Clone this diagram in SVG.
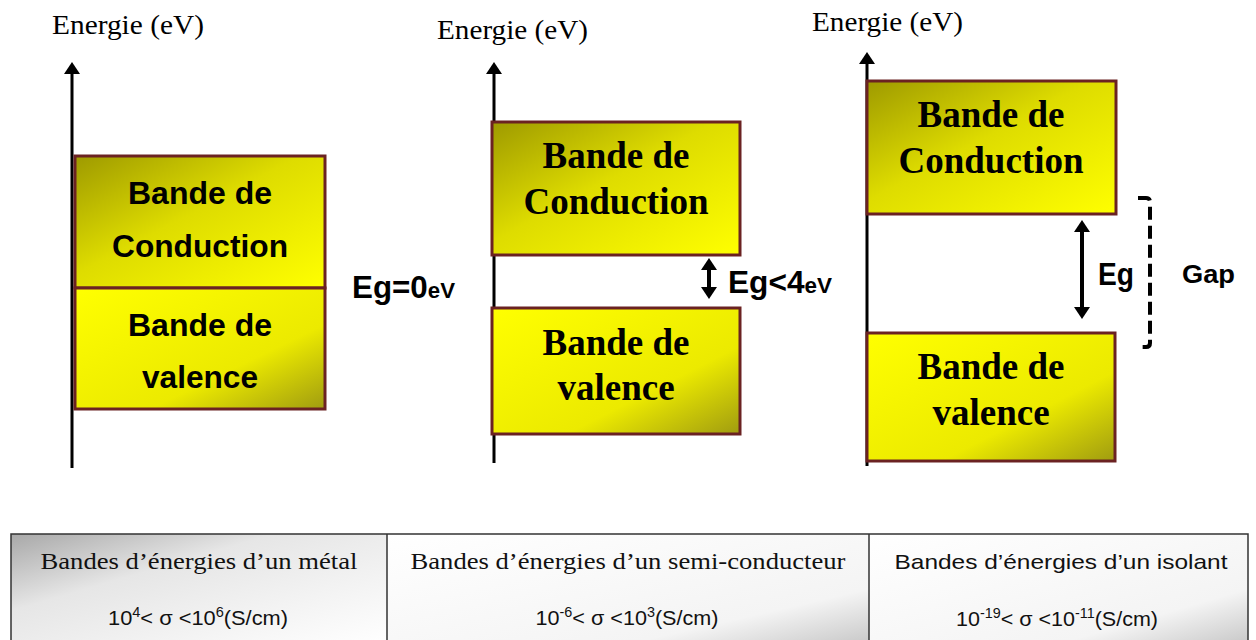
<svg xmlns="http://www.w3.org/2000/svg" width="1256" height="640" viewBox="0 0 1256 640">
<style>
.band{stroke:#6B2222;stroke-width:3}
.sb{font-family:"Liberation Sans",Arial,sans-serif;font-weight:bold;fill:#000}
.tb{font-family:"Liberation Serif","Times New Roman",serif;font-weight:bold;fill:#000;font-size:37px}
.en{font-family:"Liberation Serif","Times New Roman",serif;font-size:28px;fill:#000}
.ts{font-family:"Liberation Serif","Times New Roman",serif;font-size:24px;fill:#111}
.cs{font-family:"Liberation Sans",Arial,sans-serif;font-size:21px;fill:#111}
.axis{stroke:#000;stroke-width:3;fill:none}
.dbl{stroke:#000;stroke-width:4;fill:none}
</style>
<defs>
<linearGradient id="gc" x1="0" y1="0" x2="1" y2="1">
<stop offset="0" stop-color="#9E9A00"/>
<stop offset="0.45" stop-color="#DEDC00"/>
<stop offset="1" stop-color="#FFFF00"/>
</linearGradient>
<linearGradient id="gv" x1="0" y1="0" x2="1" y2="1">
<stop offset="0" stop-color="#FFFF00"/>
<stop offset="0.65" stop-color="#ECEA00"/>
<stop offset="1" stop-color="#A09C10"/>
</linearGradient>
<linearGradient id="t1" x1="0" y1="0" x2="1" y2="1">
<stop offset="0" stop-color="#A8A8A8"/>
<stop offset="0.35" stop-color="#E6E6E6"/>
<stop offset="1" stop-color="#FFFFFF"/>
</linearGradient>
<linearGradient id="t2" x1="0" y1="0" x2="1" y2="1">
<stop offset="0" stop-color="#FFFFFF"/>
<stop offset="0.75" stop-color="#F4F4F4"/>
<stop offset="1" stop-color="#C8C8C8"/>
</linearGradient>
<marker id="ah" viewBox="0 0 12 16" refX="2" refY="8" markerWidth="12" markerHeight="16" markerUnits="userSpaceOnUse" orient="auto">
<path d="M0,0 L12,8 L0,16 Z" fill="#000"/>
</marker>
<marker id="dh" viewBox="0 0 12 16" refX="2" refY="8" markerWidth="12" markerHeight="17" markerUnits="userSpaceOnUse" orient="auto-start-reverse">
<path d="M0,0 L12,8 L0,16 Z" fill="#000"/>
</marker>
</defs>
<rect width="1256" height="640" fill="#fff"/>

<g id="labels-energie">
<text class="en" x="52" y="34" textLength="152" lengthAdjust="spacingAndGlyphs">Energie (eV)</text>
<text class="en" x="437" y="39" textLength="151" lengthAdjust="spacingAndGlyphs">Energie (eV)</text>
<text class="en" x="812" y="31" textLength="151" lengthAdjust="spacingAndGlyphs">Energie (eV)</text>
</g>

<g id="connectors">
<line class="axis" x1="72" y1="468" x2="72" y2="72" marker-end="url(#ah)"/>
<line class="axis" x1="494" y1="463" x2="494" y2="72" marker-end="url(#ah)"/>
<line class="axis" x1="867" y1="466" x2="867" y2="62" marker-end="url(#ah)"/>
<line class="dbl" x1="709" y1="268" x2="709" y2="289" marker-start="url(#dh)" marker-end="url(#dh)"/>
<line class="dbl" x1="1082" y1="230" x2="1082" y2="309" marker-start="url(#dh)" marker-end="url(#dh)"/>
<path d="M1138,198 L1146,198 Q1150,198 1150,202 L1150,343 Q1150,347 1146,347 L1138,347" fill="none" stroke="#000" stroke-width="4" stroke-dasharray="13,6"/>
</g>

<g id="metal-conduction">
<rect class="band" x="75" y="156" width="250" height="132" fill="url(#gc)"/>
<text class="sb" x="200" y="204" font-size="32" text-anchor="middle" textLength="144" lengthAdjust="spacingAndGlyphs">Bande de</text>
<text class="sb" x="200" y="257" font-size="32" text-anchor="middle" textLength="176" lengthAdjust="spacingAndGlyphs">Conduction</text>
</g>
<g id="metal-valence">
<rect class="band" x="75" y="288" width="250" height="121" fill="url(#gv)"/>
<text class="sb" x="200" y="336" font-size="32" text-anchor="middle" textLength="144" lengthAdjust="spacingAndGlyphs">Bande de</text>
<text class="sb" x="200" y="388" font-size="32" text-anchor="middle" textLength="116" lengthAdjust="spacingAndGlyphs">valence</text>
</g>
<g id="metal-gap">
<text class="sb" x="352" y="298" font-size="31" textLength="103" lengthAdjust="spacingAndGlyphs">Eg=0<tspan font-size="22">eV</tspan></text>
</g>

<g id="semi-conduction">
<rect class="band" x="492" y="122" width="248" height="133" fill="url(#gc)"/>
<text class="tb" x="616" y="168" text-anchor="middle">Bande de</text>
<text class="tb" x="616" y="214" text-anchor="middle">Conduction</text>
</g>
<g id="semi-valence">
<rect class="band" x="492" y="308" width="248" height="126" fill="url(#gv)"/>
<text class="tb" x="616" y="355" text-anchor="middle">Bande de</text>
<text class="tb" x="616" y="400" text-anchor="middle">valence</text>
</g>
<g id="semi-gap">
<text class="sb" x="728" y="293" font-size="31" textLength="104" lengthAdjust="spacingAndGlyphs">Eg&lt;4<tspan font-size="22">eV</tspan></text>
</g>

<g id="iso-conduction">
<rect class="band" x="867" y="81" width="249" height="133" fill="url(#gc)"/>
<text class="tb" x="991" y="127" text-anchor="middle">Bande de</text>
<text class="tb" x="991" y="173" text-anchor="middle">Conduction</text>
</g>
<g id="iso-valence">
<rect class="band" x="867" y="333" width="248" height="128" fill="url(#gv)"/>
<text class="tb" x="991" y="379" text-anchor="middle">Bande de</text>
<text class="tb" x="991" y="425" text-anchor="middle">valence</text>
</g>
<g id="iso-gap">
<text class="sb" x="1098" y="285" font-size="31" textLength="36" lengthAdjust="spacingAndGlyphs">Eg</text>
<text class="sb" x="1182" y="283" font-size="25" textLength="53" lengthAdjust="spacingAndGlyphs">Gap</text>
</g>

<g id="table">
<rect x="11" y="534" width="376" height="110" fill="url(#t1)"/>
<rect x="387" y="534" width="482" height="110" fill="url(#t2)"/>
<rect x="869" y="534" width="379" height="110" fill="url(#t2)"/>
<path d="M11,642 L11,534 L1248,534 L1248,642 M387,534 L387,642 M869,534 L869,642" fill="none" stroke="#333" stroke-width="1.5"/>
<text class="ts" x="199" y="569" text-anchor="middle" textLength="317" lengthAdjust="spacingAndGlyphs">Bandes d’énergies d’un métal</text>
<text class="ts" x="628" y="569" text-anchor="middle" textLength="435" lengthAdjust="spacingAndGlyphs">Bandes d’énergies d’un semi-conducteur</text>
<text class="cs" x="1061" y="569" font-size="22" text-anchor="middle" textLength="333" lengthAdjust="spacingAndGlyphs">Bandes d’énergies d’un isolant</text>
<text class="cs" x="198" y="625" text-anchor="middle" textLength="180" lengthAdjust="spacingAndGlyphs">10<tspan font-size="14" dy="-8">4</tspan><tspan dy="8">&lt; σ &lt;10</tspan><tspan font-size="14" dy="-8">6</tspan><tspan dy="8">(S/cm)</tspan></text>
<text class="cs" x="627" y="625" text-anchor="middle" textLength="183" lengthAdjust="spacingAndGlyphs">10<tspan font-size="14" dy="-8">-6</tspan><tspan dy="8">&lt; σ &lt;10</tspan><tspan font-size="14" dy="-8">3</tspan><tspan dy="8">(S/cm)</tspan></text>
<text class="cs" x="1057" y="626" text-anchor="middle" textLength="202" lengthAdjust="spacingAndGlyphs">10<tspan font-size="14" dy="-8">-19</tspan><tspan dy="8">&lt; σ &lt;10</tspan><tspan font-size="14" dy="-8">-11</tspan><tspan dy="8">(S/cm)</tspan></text>
</g>
</svg>
